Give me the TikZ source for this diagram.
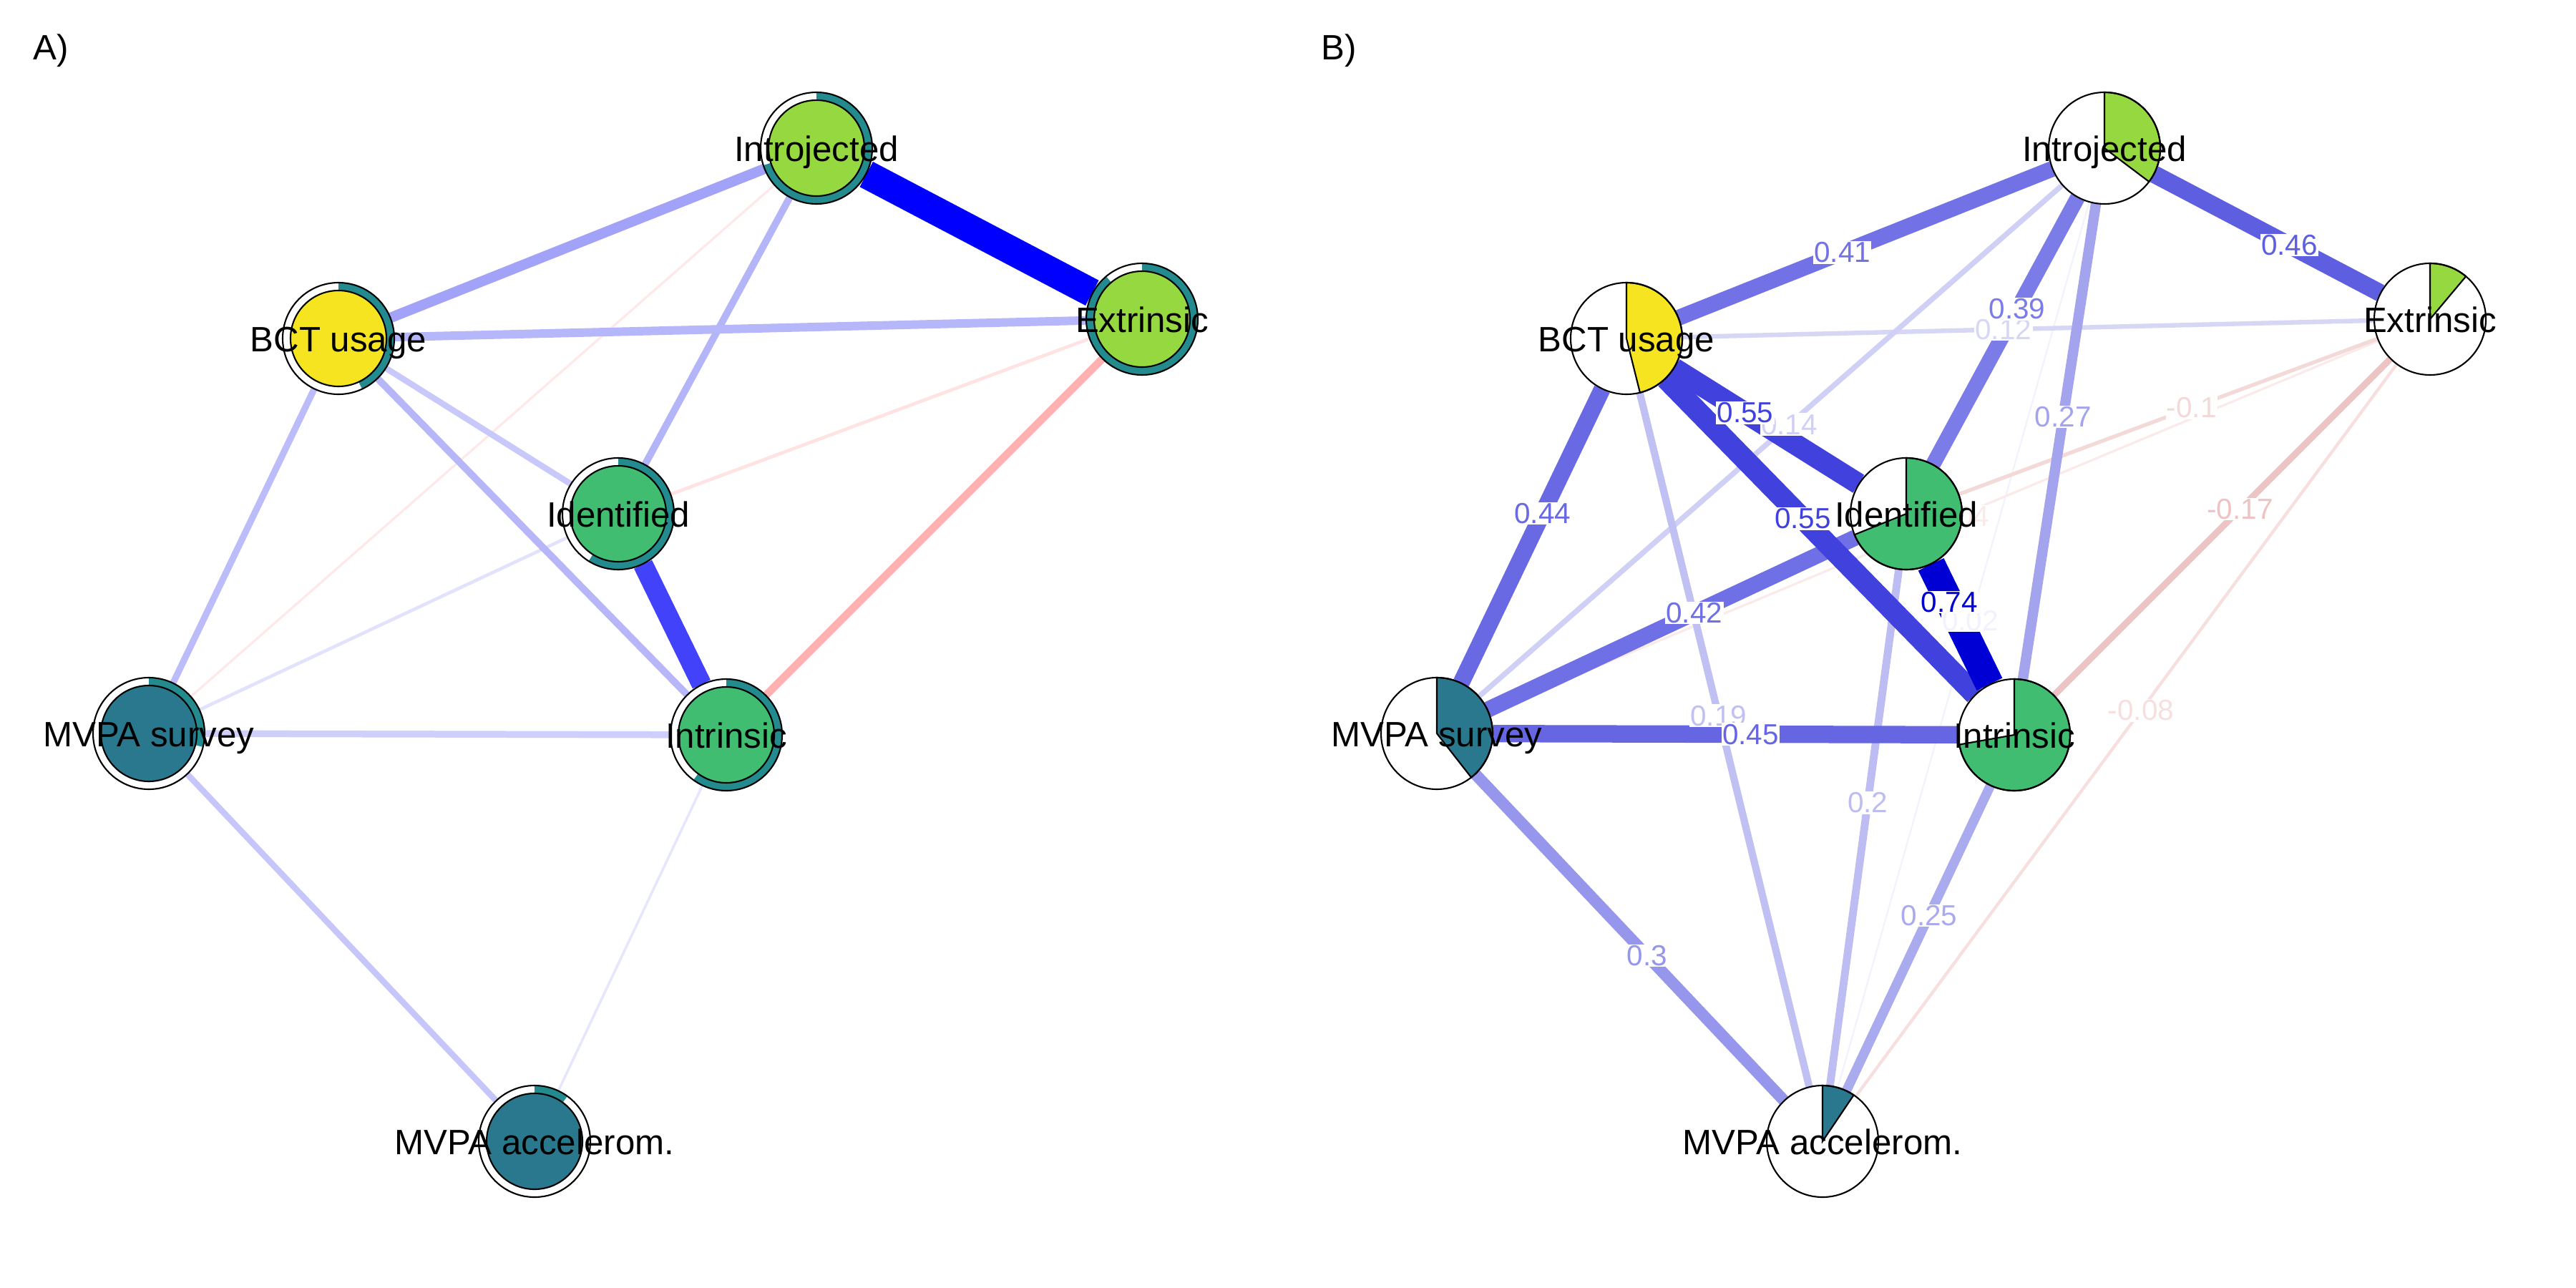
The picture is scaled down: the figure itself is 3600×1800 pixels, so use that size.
\documentclass[tikz,border=0pt]{standalone}
\usepackage{fontspec}
\setmainfont{Liberation Sans}
\usepackage{tikz}

\definecolor{ringteal}{HTML}{238A8D}
\definecolor{limegreen}{HTML}{95D840}
\definecolor{bctyellow}{HTML}{F5E41F}
\definecolor{midgreen}{HTML}{41BD72}
\definecolor{mvpablue}{HTML}{2A788E}
% left network edges
\definecolor{aintrosurv}{HTML}{FFE8E8}
\definecolor{aintracc}{HTML}{E6E6FC}
\definecolor{aidentsurv}{HTML}{E2E2FC}
\definecolor{aidentextr}{HTML}{FFE2E2}
\definecolor{abctident}{HTML}{C8C8FA}
\definecolor{asurvacc}{HTML}{C6C6FA}
\definecolor{asurvintr}{HTML}{CFCFFB}
\definecolor{abctsurv}{HTML}{BCBCFA}
\definecolor{aintroident}{HTML}{B4B4F9}
\definecolor{abctintr}{HTML}{B6B6F9}
\definecolor{aextrintr}{HTML}{FFB1B1}
\definecolor{abctextr}{HTML}{B6B6FA}
\definecolor{abctintro}{HTML}{A2A2F8}
\definecolor{aidentintr}{HTML}{4242FA}
\definecolor{aintroextr}{HTML}{0000FF}
% right network edges
\definecolor{w002}{HTML}{F2F2FC}
\definecolor{w004}{HTML}{FAEAEA}
\definecolor{w008}{HTML}{F7DFDF}
\definecolor{w010}{HTML}{F4D9D9}
\definecolor{w012}{HTML}{D6D6F5}
\definecolor{w014}{HTML}{D0D0F7}
\definecolor{w017}{HTML}{EEC3C3}
\definecolor{w019}{HTML}{C0C0F3}
\definecolor{w020}{HTML}{BDBDF3}
\definecolor{w025}{HTML}{AAAAEF}
\definecolor{w027}{HTML}{A4A4EE}
\definecolor{w030}{HTML}{9696EC}
\definecolor{w039}{HTML}{7C7CE8}
\definecolor{w041}{HTML}{7272E6}
\definecolor{w042}{HTML}{7070E6}
\definecolor{w044}{HTML}{6969E4}
\definecolor{w045}{HTML}{6666E3}
\definecolor{w046}{HTML}{5E5EE0}
\definecolor{w055}{HTML}{4141DD}
\definecolor{w074}{HTML}{0000D4}

\begin{document}
\begin{tikzpicture}[x=0.01cm, y=0.01cm]
\tikzstyle{every node}+=[inner sep=0pt]
\tikzstyle{vert}=[circle, minimum size=1.56cm]
\tikzstyle{rim}=[black, line width=0.6pt]
\tikzstyle{nodetext}=[anchor=base, font=\fontsize{14}{16}\selectfont]
\tikzstyle{weight}=[fill=white, inner sep=0.4pt, font=\fontsize{11.5}{13}\selectfont]
\useasboundingbox (0,0) rectangle (3600,-1800);
\fill [white] (0,0) rectangle (3600,-1800);

\node [nodetext, anchor=base west] (tagA) at (46,-84) {A)};
\node [nodetext, anchor=base west] (tagB) at (1846,-84) {B)};

% vertices
\node [vert] (aintro) at (1141,-207) {};
\node [vert] (abct) at (473,-473) {};
\node [vert] (aextr) at (1596,-446) {};
\node [vert] (aident) at (864,-718) {};
\node [vert] (asurv) at (208,-1025) {};
\node [vert] (aintr) at (1015,-1027) {};
\node [vert] (aacc) at (747,-1595) {};
\node [vert] (bintro) at (2941,-207) {};
\node [vert] (bbct) at (2273,-473) {};
\node [vert] (bextr) at (3396,-446) {};
\node [vert] (bident) at (2664,-718) {};
\node [vert] (bsurv) at (2008,-1025) {};
\node [vert] (bintr) at (2815,-1027) {};
\node [vert] (bacc) at (2547,-1595) {};

% A) edges, weakest first
\draw [aintrosurv, line width=0.9pt] (aintro) -- (asurv);
\draw [aintracc, line width=1pt] (aintr) -- (aacc);
\draw [aidentsurv, line width=1.3pt] (aident) -- (asurv);
\draw [aidentextr, line width=1.3pt] (aident) -- (aextr);
\draw [abctident, line width=2.4pt] (abct) -- (aident);
\draw [asurvacc, line width=2.4pt] (asurv) -- (aacc);
\draw [asurvintr, line width=2.7pt] (asurv) -- (aintr);
\draw [abctsurv, line width=2.6pt] (abct) -- (asurv);
\draw [aintroident, line width=2.8pt] (aintro) -- (aident);
\draw [abctintr, line width=2.8pt] (abct) -- (aintr);
\draw [aextrintr, line width=3.1pt] (aextr) -- (aintr);
\draw [abctextr, line width=3.4pt] (abct) -- (aextr);
\draw [abctintro, line width=4.1pt] (abct) -- (aintro);
\draw [aidentintr, line width=7.9pt] (aident) -- (aintr);
\draw [aintroextr, line width=11.3pt] (aintro) -- (aextr);

% B) edges, weakest first
\draw [w002, line width=0.6pt] (bintro) -- coordinate[pos=0.473] (m002) (bacc);
\draw [w004, line width=0.9pt] (bextr) -- coordinate[pos=0.474] (m004) (bsurv);
\draw [w008, line width=1.2pt] (bextr) -- coordinate[pos=0.473] (m008) (bacc);
\draw [w010, line width=1.5pt] (bextr) -- coordinate[pos=0.444] (m010) (bident);
\draw [w012, line width=1.8pt] (bbct) -- coordinate[pos=0.464] (m012) (bextr);
\draw [w014, line width=2.1pt] (bintro) -- coordinate[pos=0.468] (m014) (bsurv);
\draw [w017, line width=2.6pt] (bextr) -- coordinate[pos=0.447] (m017) (bintr);
\draw [w019, line width=2.9pt] (bbct) -- coordinate[pos=0.465] (m019) (bacc);
\draw [w020, line width=3.1pt] (bident) -- coordinate[pos=0.452] (m020) (bacc);
\draw [w025, line width=3.8pt] (bintr) -- coordinate[pos=0.426] (m025) (bacc);
\draw [w027, line width=4.1pt] (bintro) -- coordinate[pos=0.448] (m027) (bintr);
\draw [w030, line width=4.6pt] (bacc) -- coordinate[pos=0.444] (m030) (bsurv);
\draw [w039, line width=6pt] (bintro) -- coordinate[pos=0.418] (m039) (bident);
\draw [w041, line width=6.3pt] (bbct) -- coordinate[pos=0.438] (m041) (bintro);
\draw [w042, line width=6.4pt] (bident) -- coordinate[pos=0.438] (m042) (bsurv);
\draw [w044, line width=6.7pt] (bbct) -- coordinate[pos=0.423] (m044) (bsurv);
\draw [w045, line width=6.9pt] (bintr) -- coordinate[pos=0.446] (m045) (bsurv);
\draw [w046, line width=7pt] (bextr) -- coordinate[pos=0.402] (m046) (bintro);
\draw [w055, line width=8.4pt] (bbct) -- coordinate[pos=0.385] (m055a) (bident);
\draw [w055, line width=8.4pt] (bbct) -- coordinate[pos=0.443] (m055b) (bintr);
\draw [w074, line width=11.3pt] (bident) -- coordinate[pos=0.314] (m074) (bintr);

% B) edge weights
\node [weight, text=w002] (t002) at (m002) {0.02};
\node [weight, text=w004] (t004) at (m004) {-0.04};
\node [weight, text=w008] (t008) at (m008) {-0.08};
\node [weight, text=w010] (t010) at (m010) {-0.1};
\node [weight, text=w012] (t012) at (m012) {0.12};
\node [weight, text=w014] (t014) at (m014) {0.14};
\node [weight, text=w017] (t017) at (m017) {-0.17};
\node [weight, text=w019] (t019) at (m019) {0.19};
\node [weight, text=w020] (t020) at (m020) {0.2};
\node [weight, text=w025] (t025) at (m025) {0.25};
\node [weight, text=w027] (t027) at (m027) {0.27};
\node [weight, text=w030] (t030) at (m030) {0.3};
\node [weight, text=w039] (t039) at (m039) {0.39};
\node [weight, text=w041] (t041) at (m041) {0.41};
\node [weight, text=w042] (t042) at (m042) {0.42};
\node [weight, text=w044] (t044) at (m044) {0.44};
\node [weight, text=w045] (t045) at (m045) {0.45};
\node [weight, text=w046] (t046) at (m046) {0.46};
\node [weight, text=w055] (t055a) at (m055a) {0.55};
\node [weight, text=w055] (t055b) at (m055b) {0.55};
\node [weight, text=w074] (t074) at (m074) {0.74};

% A) pies: ring on the rim
\fill [white] (aintro.center) circle (78);
\fill [ringteal] (aintro.center) -- ++(0,78) arc[start angle=90, delta angle=-252, radius=78] -- cycle;
\draw [rim] (aintro.center) circle (78);
\filldraw [rim, fill=limegreen] (aintro.center) circle (67);
\fill [white] (abct.center) circle (78);
\fill [ringteal] (abct.center) -- ++(0,78) arc[start angle=90, delta angle=-155, radius=78] -- cycle;
\draw [rim] (abct.center) circle (78);
\filldraw [rim, fill=bctyellow] (abct.center) circle (67);
\fill [white] (aextr.center) circle (78);
\fill [ringteal] (aextr.center) -- ++(0,78) arc[start angle=90, delta angle=-320, radius=78] -- cycle;
\draw [rim] (aextr.center) circle (78);
\filldraw [rim, fill=limegreen] (aextr.center) circle (67);
\fill [white] (aident.center) circle (78);
\fill [ringteal] (aident.center) -- ++(0,78) arc[start angle=90, delta angle=-212, radius=78] -- cycle;
\draw [rim] (aident.center) circle (78);
\filldraw [rim, fill=midgreen] (aident.center) circle (67);
\fill [white] (asurv.center) circle (78);
\fill [ringteal] (asurv.center) -- ++(0,78) arc[start angle=90, delta angle=-104, radius=78] -- cycle;
\draw [rim] (asurv.center) circle (78);
\filldraw [rim, fill=mvpablue] (asurv.center) circle (67);
\fill [white] (aintr.center) circle (78);
\fill [ringteal] (aintr.center) -- ++(0,78) arc[start angle=90, delta angle=-216, radius=78] -- cycle;
\draw [rim] (aintr.center) circle (78);
\filldraw [rim, fill=midgreen] (aintr.center) circle (67);
\fill [white] (aacc.center) circle (78);
\fill [ringteal] (aacc.center) -- ++(0,78) arc[start angle=90, delta angle=-36, radius=78] -- cycle;
\draw [rim] (aacc.center) circle (78);
\filldraw [rim, fill=mvpablue] (aacc.center) circle (67);

% B) pies: whole disc
\fill [white] (bintro.center) circle (78);
\filldraw [rim, fill=limegreen] (bintro.center) -- ++(0,78) arc[start angle=90, delta angle=-127, radius=78] -- cycle;
\draw [rim] (bintro.center) circle (78);
\fill [white] (bbct.center) circle (78);
\filldraw [rim, fill=bctyellow] (bbct.center) -- ++(0,78) arc[start angle=90, delta angle=-166, radius=78] -- cycle;
\draw [rim] (bbct.center) circle (78);
\fill [white] (bextr.center) circle (78);
\filldraw [rim, fill=limegreen] (bextr.center) -- ++(0,78) arc[start angle=90, delta angle=-40, radius=78] -- cycle;
\draw [rim] (bextr.center) circle (78);
\fill [white] (bident.center) circle (78);
\filldraw [rim, fill=midgreen] (bident.center) -- ++(0,78) arc[start angle=90, delta angle=-248, radius=78] -- cycle;
\draw [rim] (bident.center) circle (78);
\fill [white] (bsurv.center) circle (78);
\filldraw [rim, fill=mvpablue] (bsurv.center) -- ++(0,78) arc[start angle=90, delta angle=-142, radius=78] -- cycle;
\draw [rim] (bsurv.center) circle (78);
\fill [white] (bintr.center) circle (78);
\filldraw [rim, fill=midgreen] (bintr.center) -- ++(0,78) arc[start angle=90, delta angle=-260, radius=78] -- cycle;
\draw [rim] (bintr.center) circle (78);
\fill [white] (bacc.center) circle (78);
\filldraw [rim, fill=mvpablue] (bacc.center) -- ++(0,78) arc[start angle=90, delta angle=-34, radius=78] -- cycle;
\draw [rim] (bacc.center) circle (78);

% vertex labels
\node [nodetext, yshift=-0.18cm] (lintroA) at (aintro) {Introjected};
\node [nodetext, yshift=-0.18cm] (lbctA) at (abct) {BCT usage};
\node [nodetext, yshift=-0.18cm] (lextrA) at (aextr) {Extrinsic};
\node [nodetext, yshift=-0.18cm] (lidentA) at (aident) {Identified};
\node [nodetext, yshift=-0.18cm] (lsurvA) at (asurv) {MVPA survey};
\node [nodetext, yshift=-0.18cm] (lintrA) at (aintr) {Intrinsic};
\node [nodetext, yshift=-0.18cm] (laccA) at (aacc) {MVPA accelerom.};
\node [nodetext, yshift=-0.18cm] (lintroB) at (bintro) {Introjected};
\node [nodetext, yshift=-0.18cm] (lbctB) at (bbct) {BCT usage};
\node [nodetext, yshift=-0.18cm] (lextrB) at (bextr) {Extrinsic};
\node [nodetext, yshift=-0.18cm] (lidentB) at (bident) {Identified};
\node [nodetext, yshift=-0.18cm] (lsurvB) at (bsurv) {MVPA survey};
\node [nodetext, yshift=-0.18cm] (lintrB) at (bintr) {Intrinsic};
\node [nodetext, yshift=-0.18cm] (laccB) at (bacc) {MVPA accelerom.};
\end{tikzpicture}
\end{document}
